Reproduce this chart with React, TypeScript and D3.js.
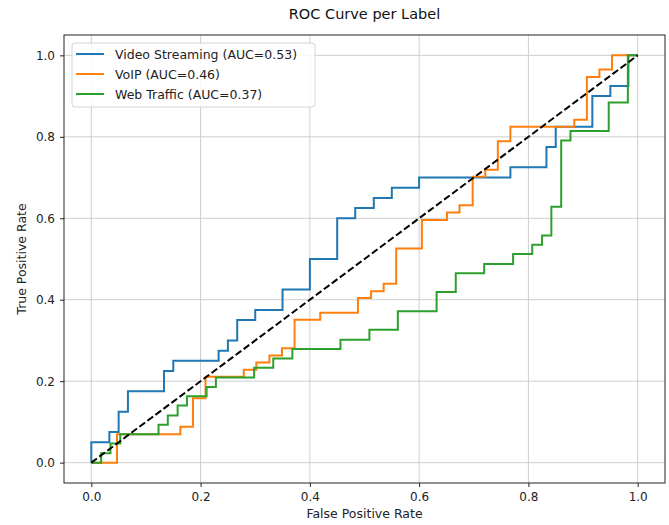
import React, { useEffect, useRef } from "react";
import * as d3 from "d3";

// ROC corner points (top of every vertical rise)
const videoFpr = [0, 0, 0.033, 0.05, 0.067, 0.133, 0.15, 0.233, 0.25, 0.267, 0.3, 0.35, 0.4, 0.45, 0.483, 0.517, 0.55, 0.6, 0.767, 0.833, 0.85, 0.917, 0.95, 0.983, 1];
const videoTpr = [0, 0.05, 0.075, 0.125, 0.175, 0.225, 0.25, 0.275, 0.3, 0.35, 0.375, 0.425, 0.5, 0.6, 0.625, 0.65, 0.675, 0.7, 0.725, 0.775, 0.825, 0.9, 0.925, 1, 1];

const voipFpr = [0, 0.047, 0.163, 0.186, 0.209, 0.279, 0.302, 0.326, 0.349, 0.372, 0.419, 0.488, 0.512, 0.535, 0.558, 0.605, 0.651, 0.674, 0.698, 0.721, 0.744, 0.767, 0.884, 0.907, 0.93, 0.953, 1];
const voipTpr = [0, 0.07, 0.088, 0.158, 0.211, 0.228, 0.246, 0.263, 0.281, 0.351, 0.368, 0.404, 0.421, 0.439, 0.526, 0.596, 0.614, 0.632, 0.702, 0.719, 0.789, 0.825, 0.842, 0.947, 0.965, 1, 1];

const webFpr = [0, 0.018, 0.035, 0.053, 0.123, 0.14, 0.158, 0.175, 0.211, 0.228, 0.298, 0.333, 0.368, 0.456, 0.509, 0.561, 0.632, 0.667, 0.719, 0.772, 0.807, 0.825, 0.842, 0.86, 0.877, 0.947, 0.982, 1];
const webTpr = [0, 0.023, 0.047, 0.07, 0.093, 0.116, 0.14, 0.163, 0.186, 0.209, 0.233, 0.256, 0.279, 0.302, 0.326, 0.372, 0.419, 0.465, 0.488, 0.512, 0.535, 0.558, 0.628, 0.791, 0.814, 0.884, 1, 1];

const labels = ["Video Streaming", "VoIP", "Web Traffic"];
const aucs = [0.53, 0.46, 0.37];
const colors = ["#1f77b4", "#ff7f0e", "#2ca02c"];
const ticks = [0, 0.2, 0.4, 0.6, 0.8, 1.0];

const W = 669, H = 525;
const FONT = "DejaVu Sans, sans-serif";

function App() {
    const ref = useRef<SVGSVGElement>(null);

    useEffect(() => {
        const svg = d3.select(ref.current);
        svg.selectAll("*").remove();

        const left = 64, right = 665, top = 35, bottom = 483;
        const x = d3.scaleLinear().domain([-0.05, 1.05]).range([left, right]);
        const y = d3.scaleLinear().domain([-0.05, 1.05]).range([bottom, top]);

        svg.append("rect").attr("width", W).attr("height", H).attr("fill", "#fff");

        // grid
        const grid = svg.append("g").attr("stroke", "#cfcfcf").attr("stroke-width", 1);
        ticks.forEach(t => {
            grid.append("line").attr("x1", x(t)).attr("x2", x(t)).attr("y1", top).attr("y2", bottom);
            grid.append("line").attr("y1", y(t)).attr("y2", y(t)).attr("x1", left).attr("x2", right);
        });

        // curves
        const series = [
            [videoFpr, videoTpr],
            [voipFpr, voipTpr],
            [webFpr, webTpr]
        ];
        const line = d3.line<[number, number]>()
            .x(d => x(d[0]))
            .y(d => y(d[1]))
            .curve(d3.curveStepAfter);

        series.forEach((s, i) => {
            const pts = s[0].map((f, j) => [f, s[1][j]] as [number, number]);
            svg.append("path")
                .datum(pts)
                .attr("fill", "none")
                .attr("stroke", colors[i])
                .attr("stroke-width", 2)
                .attr("stroke-linejoin", "miter")
                .attr("d", line);
        });

        // chance diagonal
        svg.append("line")
            .attr("x1", x(0)).attr("y1", y(0))
            .attr("x2", x(1)).attr("y2", y(1))
            .attr("stroke", "#000")
            .attr("stroke-width", 2)
            .attr("stroke-dasharray", "7,3");

        // frame
        svg.append("rect")
            .attr("x", left).attr("y", top)
            .attr("width", right - left).attr("height", bottom - top)
            .attr("fill", "none").attr("stroke", "#222").attr("stroke-width", 1);

        // axes
        const xAxis = svg.append("g")
            .attr("transform", `translate(0,${bottom})`)
            .call(d3.axisBottom(x).tickValues(ticks).tickFormat(d3.format(".1f")).tickSize(4).tickPadding(5));
        const yAxis = svg.append("g")
            .attr("transform", `translate(${left},0)`)
            .call(d3.axisLeft(y).tickValues(ticks).tickFormat(d3.format(".1f")).tickSize(4).tickPadding(5));
        [xAxis, yAxis].forEach(a => {
            a.select(".domain").remove();
            a.selectAll("line").attr("stroke", "#222");
            a.selectAll("text").attr("font-family", FONT).attr("font-size", 12).attr("fill", "#222");
        });

        svg.append("text")
            .attr("x", (left + right) / 2).attr("y", 518)
            .attr("text-anchor", "middle")
            .attr("font-family", FONT).attr("font-size", 12.5).attr("fill", "#222")
            .text("False Positive Rate");
        svg.append("text")
            .attr("transform", `translate(26,${(top + bottom) / 2}) rotate(-90)`)
            .attr("text-anchor", "middle")
            .attr("font-family", FONT).attr("font-size", 12.5).attr("fill", "#222")
            .text("True Positive Rate");
        svg.append("text")
            .attr("x", (left + right) / 2).attr("y", 19)
            .attr("text-anchor", "middle")
            .attr("font-family", FONT).attr("font-size", 14.5).attr("fill", "#111")
            .text("ROC Curve per Label");

        // legend
        const lg = svg.append("g").attr("transform", "translate(72,43)");
        lg.append("rect")
            .attr("width", 243).attr("height", 64).attr("rx", 3)
            .attr("fill", "#fff").attr("fill-opacity", 0.85)
            .attr("stroke", "#d4d4d4");
        labels.forEach((l, i) => {
            const yy = 11 + i * 20;
            lg.append("line")
                .attr("x1", 4).attr("x2", 32).attr("y1", yy).attr("y2", yy)
                .attr("stroke", colors[i]).attr("stroke-width", 2);
            lg.append("text")
                .attr("x", 43).attr("y", yy).attr("dy", "0.36em")
                .attr("font-family", FONT).attr("font-size", 12.5).attr("fill", "#222")
                .text(`${l} (AUC=${aucs[i].toFixed(2)})`);
        });
    }, []);

    return (
        <svg ref={ref} width={W} height={H} style={{ display: "block", position: "absolute", left: 0, top: 0 }}></svg>
    );
}

export default App;
